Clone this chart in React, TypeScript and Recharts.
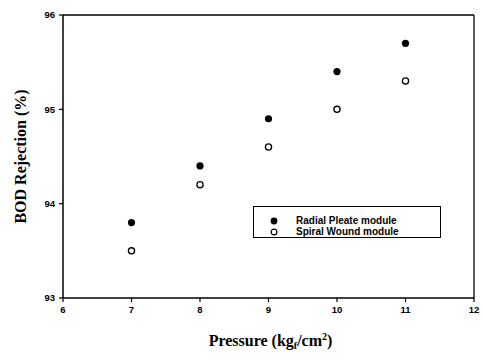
import {
  ScatterChart,
  Scatter,
  XAxis,
  YAxis,
  ReferenceLine,
  Label,
} from 'recharts'

// Pressure (kgf/cm2)
const pressure = [7, 8, 9, 10, 11]
// BOD rejection (%)
const radialPleate = [93.8, 94.4, 94.9, 95.4, 95.7]
const spiralWound = [93.5, 94.2, 94.6, 95.0, 95.3]

const xTicks = [6, 7, 8, 9, 10, 11, 12]
const yTicks = [93, 94, 95, 96]

const seriesNames = ['Radial Pleate module', 'Spiral Wound module']

const radialData = pressure.map((x, i) => ({ x, y: radialPleate[i] }))
const spiralData = pressure.map((x, i) => ({ x, y: spiralWound[i] }))

const TICK_FONT = { fontFamily: 'Liberation Sans, Arial, sans-serif', fontSize: 9.5, fontWeight: 700, fill: '#000' }
const LABEL_FONT = 'Liberation Serif, Times New Roman, serif'

function FilledDot(props: any) {
  const { cx, cy } = props
  return <circle cx={cx} cy={cy} r={3.6} fill="#000" />
}

function OpenDot(props: any) {
  const { cx, cy } = props
  return <circle cx={cx} cy={cy} r={3.1} fill="#fff" stroke="#000" strokeWidth={1.3} />
}

// legend drawn as an overlay so it doesn't eat into the plot area
function LegendBox() {
  return (
    <div
      style={{
        position: 'absolute',
        left: 253,
        top: 206,
        border: '1px solid #000',
        width: 188,
        height: 32,
        boxSizing: 'border-box',
        padding: '8px 0 0 16px',
        background: '#fff',
        fontFamily: 'Liberation Sans, Arial, sans-serif',
        fontWeight: 700,
        fontSize: 10,
        lineHeight: '11px',
      }}
    >
      {seriesNames.map((name, i) => (
        <div key={name} style={{ display: 'flex', alignItems: 'center' }}>
          <svg width={10} height={10} style={{ marginRight: 16 }}>
            {i === 0 ? (
              <circle cx={4} cy={5} r={3.4} fill="#000" />
            ) : (
              <circle cx={4} cy={5} r={2.9} fill="#fff" stroke="#000" strokeWidth={1.2} />
            )}
          </svg>
          <span>{name}</span>
        </div>
      ))}
    </div>
  )
}

function XTitle(props: any) {
  const { viewBox } = props
  const cx = viewBox.x + viewBox.width / 2
  return (
    <text
      x={cx + 2}
      y={346}
      textAnchor="middle"
      fontFamily={LABEL_FONT}
      fontWeight={700}
      fontSize={16}
      fill="#000"
    >
      Pressure (kg
      <tspan fontSize={10} dy={3}>f</tspan>
      <tspan dy={-3}>/cm</tspan>
      <tspan fontSize={10} dy={-6}>2</tspan>
      <tspan dy={6}>)</tspan>
    </text>
  )
}

export default function App() {
  return (
    <div style={{ position: 'absolute', left: 0, top: 0, background: '#fff' }}>
      <ScatterChart width={481} height={359} margin={{ top: 15, right: 7, left: 0, bottom: 0 }}>
        <XAxis
          type="number"
          dataKey="x"
          domain={[6, 12]}
          ticks={xTicks}
          height={61}
          tick={TICK_FONT}
          tickSize={4}
          tickMargin={4}
          axisLine={{ stroke: '#000', strokeWidth: 1.5 }}
          tickLine={{ stroke: '#000', strokeWidth: 1.2 }}
        >
          <Label content={<XTitle />} />
        </XAxis>
        <YAxis
          type="number"
          dataKey="y"
          domain={[93, 96]}
          ticks={yTicks}
          width={63}
          tick={TICK_FONT}
          tickSize={4}
          tickMargin={4}
          axisLine={{ stroke: '#000', strokeWidth: 1.5 }}
          tickLine={{ stroke: '#000', strokeWidth: 1.2 }}
        >
          <Label
            value="BOD Rejection (%)"
            angle={-90}
            position="insideLeft"
            offset={20}
            style={{ fontFamily: LABEL_FONT, fontWeight: 700, fontSize: 16, fill: '#000', textAnchor: 'middle' }}
          />
        </YAxis>
        <ReferenceLine y={96} stroke="#000" strokeWidth={1.3} />
        <ReferenceLine x={12} stroke="#000" strokeWidth={1.3} />
        <Scatter
          name={seriesNames[0]}
          data={radialData}
          shape={<FilledDot />}
          isAnimationActive={false}
        />
        <Scatter
          name={seriesNames[1]}
          data={spiralData}
          shape={<OpenDot />}
          isAnimationActive={false}
        />
      </ScatterChart>
      <LegendBox />
    </div>
  )
}
